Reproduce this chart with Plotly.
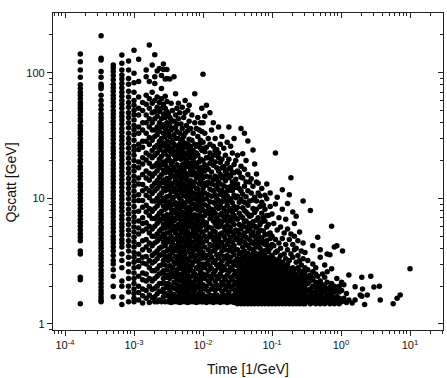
import plotly.graph_objects as go

# ---- data: Qscatt [GeV] values grouped by time [1/GeV] ----
times = [
    1.667e-4, 3.333e-4, 5.0e-4, 6.667e-4, 8.333e-4,
    1.0e-3, 1.167e-3, 1.333e-3, 1.5e-3, 1.667e-3, 1.833e-3, 2.0e-3, 2.167e-3, 2.333e-3,
    2.5e-3, 2.667e-3, 2.833e-3, 3.0e-3,
    3.15e-3, 3.3e-3, 3.45e-3, 3.6e-3, 3.8e-3, 4.0e-3, 4.2e-3, 4.4e-3, 4.6e-3, 4.8e-3,
    5.0e-3, 5.25e-3, 5.5e-3, 5.75e-3, 6.0e-3, 6.3e-3, 6.6e-3, 6.9e-3, 7.2e-3, 7.6e-3,
    8.0e-3, 8.4e-3, 8.8e-3, 9.2e-3, 9.6e-3,
    1.0e-2, 1.06e-2, 1.12e-2, 1.19e-2, 1.26e-2, 1.33e-2, 1.41e-2, 1.5e-2, 1.58e-2, 1.68e-2,
    1.78e-2, 1.88e-2, 2.0e-2, 2.11e-2, 2.24e-2, 2.37e-2, 2.51e-2, 2.66e-2, 2.82e-2, 2.98e-2,
    3.16e-2, 3.35e-2, 3.55e-2, 3.76e-2, 3.98e-2, 4.2e-2, 4.47e-2, 4.73e-2, 5.0e-2, 5.3e-2,
    5.6e-2, 5.96e-2, 6.3e-2, 6.7e-2, 7.1e-2, 7.5e-2, 7.9e-2, 8.4e-2, 8.9e-2, 9.4e-2,
    0.100, 0.106, 0.112, 0.119, 0.126, 0.133, 0.141, 0.150, 0.158, 0.168,
    0.178, 0.188, 0.200, 0.211, 0.224, 0.237, 0.251, 0.266, 0.282,
    0.30, 0.33, 0.36, 0.39, 0.43, 0.46, 0.50, 0.54, 0.58, 0.63, 0.69, 0.73, 0.80, 0.87, 0.94,
    1.02, 1.05, 1.1, 1.2, 1.3, 1.45, 1.6, 1.9, 2.0, 2.05, 2.2, 2.4, 2.7, 3.0, 3.6, 3.7,
    5.7, 6.5, 7.2, 10.0,
]

qscatt = [
    # discrete early-time columns
    [141, 122, 105, 92, 80, 75, 70, 66, 62, 58, 55, 52, 49, 46, 43, 41, 38, 36, 34, 32, 30, 28, 26.5, 25,
     23.5, 22, 20.5, 19.5, 18, 17, 16, 15, 14, 13, 12.3, 11.5, 10.8, 10.1, 9.5, 8.9, 8.3, 7.8, 7.3, 6.8,
     6.4, 6.0, 5.6, 5.2, 4.9, 4.6, 3.8, 3.6, 2.35, 2.25, 1.45],
    [197, 130, 126, 102, 92, 81, 78, 75, 66, 60, 55, 51, 47, 44, 41.5, 39, 37, 35, 33, 31, 29.5, 28, 26.5,
     25, 23.5, 22.3, 21, 20, 19, 18, 17, 16.1, 15.2, 14.4, 13.6, 12.8, 12.1, 11.4, 10.8, 10.2, 9.6, 9.1,
     8.6, 8.1, 7.6, 7.2, 6.8, 6.4, 6.0, 5.7, 5.4, 5.1, 4.8, 4.5, 4.25, 4.0, 3.75, 3.5, 3.3, 3.1, 2.9, 2.7,
     2.55, 2.4, 2.25, 2.1, 1.97, 1.85, 1.74, 1.64, 1.55, 1.5],
    [115, 109, 102, 95, 88, 81, 76, 71, 66, 62, 58, 54, 50, 47, 44, 41, 38.5, 36, 33.5, 31.5, 29.5, 27.5,
     25.5, 24, 22.5, 21, 19.5, 18.3, 17.1, 16, 15, 14, 13.1, 12.2, 11.4, 10.7, 10, 9.3, 8.7, 8.1, 7.6, 7.1,
     6.6, 6.2, 5.8, 5.4, 5.0, 4.7, 4.4, 4.1, 3.8, 3.5, 3.2, 3.0, 2.7, 2.4, 2.0, 1.65],
    [138, 119, 105, 96, 89, 82, 76, 70, 65, 60, 56, 52, 48, 45, 42, 39, 36, 33.5, 31, 29, 27, 25, 23.3,
     21.7, 20.2, 18.8, 17.5, 16.3, 15.2, 14.1, 13.1, 12.2, 11.3, 10.5, 9.8, 9.1, 8.5, 7.9, 7.3, 6.8, 6.3,
     5.9, 5.5, 5.1, 4.7, 4.4, 4.1, 3.6, 3.2, 2.8, 2.2, 2.0, 1.64, 1.43],
    [124, 105, 90, 81, 71, 64, 58, 53, 48, 44, 40, 36.5, 33, 30, 27.5, 25, 22.8, 20.8, 19, 17.3, 15.8,
     14.4, 13.1, 12, 10.9, 9.9, 9.0, 8.2, 7.5, 6.8, 6.2, 5.6, 5.1, 4.6, 4.2, 3.8, 3.4, 3.0, 2.6, 2.3, 2.0,
     1.8, 1.5],
    # dense core 1e-3 .. 3e-3
    [151, 99, 83, 70, 60, 55, 50, 46, 42, 38, 35, 32, 29, 26, 24, 22, 20, 18, 16.5, 15, 13.7, 12.5, 11.4,
     10.4, 9.5, 8.6, 7.8, 7.1, 6.5, 5.9, 5.4, 4.9, 4.5, 4.1, 3.7, 3.4, 3.1, 2.8, 2.55, 2.3, 2.1, 1.9, 1.75,
     1.6, 1.5],
    [128, 85, 64, 52, 46, 37, 33, 27, 24.5, 19.5, 17.5, 14.5, 13, 10.7, 9.6, 7.9, 6.6, 5.8, 5.2, 4.3,
     3.6, 3.2, 2.85, 2.4, 2.0, 1.78, 1.55],
    [58, 50, 40, 35, 28.5, 25.5, 21, 18.8, 15.5, 12.9, 11.5, 9.6, 8.5, 7.0, 6.3, 5.5, 4.6, 3.9, 3.4, 3.05,
     2.55, 2.25, 1.9, 1.68, 1.47],
    [105, 93, 66, 56, 46, 40, 33, 28.5, 23, 20.2, 16.5, 14.5, 12, 10.6, 8.8, 7.8, 6.4, 5.7, 4.7, 4.1, 3.45,
     3.0, 2.5, 2.2, 1.85, 1.6],
    [166, 85, 62, 52, 43, 37, 30.5, 26.8, 22, 19, 15.8, 13.9, 11.5, 10.1, 8.3, 7.3, 6.0, 5.3, 4.4, 3.85,
     3.2, 2.8, 2.3, 2.0, 1.7, 1.48],
    [115, 70, 57, 48, 40, 35, 29, 24, 21, 17.8, 15, 12.5, 10.9, 9.5, 7.9, 6.9, 5.7, 5.0, 4.2, 3.5, 3.05,
     2.65, 2.2, 1.88, 1.62],
    [139, 93, 82, 60, 49, 43, 35, 31, 25.5, 22, 18.2, 15.8, 13.2, 11.5, 9.5, 8.3, 6.9, 6.0, 5.0, 4.4,
     3.65, 3.15, 2.65, 2.3, 1.92, 1.65, 1.5],
    [103, 64, 53, 45, 37, 32, 26.5, 23, 19, 16.6, 13.8, 12, 10, 8.7, 7.2, 6.3, 5.2, 4.55, 3.8, 3.3, 2.75,
     2.4, 2.0, 1.74, 1.5],
    [108, 58, 49, 40, 34, 28.5, 24.5, 20.5, 17.6, 14.7, 12.7, 10.6, 9.2, 7.6, 6.6, 5.5, 4.8, 4.0, 3.5,
     2.9, 2.5, 2.1, 1.82, 1.55],
    [95, 75, 62, 52, 43, 37, 30, 26, 21.5, 18.6, 15.4, 13.3, 11, 9.5, 7.9, 6.8, 5.7, 4.95, 4.1, 3.55,
     2.95, 2.55, 2.1, 1.82, 1.5],
    [117, 106, 56, 47, 38.5, 33, 27.5, 23.5, 19.5, 16.8, 14, 12, 10, 8.7, 7.2, 6.2, 5.2, 4.5, 3.7, 3.2,
     2.65, 2.3, 1.9, 1.65],
    [89, 65, 52, 44, 36, 31, 26, 22.5, 18.5, 16, 13.2, 11.5, 9.5, 8.2, 6.8, 5.8, 4.85, 4.2, 3.45, 2.95,
     2.45, 2.1, 1.75, 1.5],
    [106, 90, 59, 49, 40, 34.5, 28.5, 24.5, 20, 17.4, 14.4, 12.5, 10.3, 8.9, 7.4, 6.4, 5.3, 4.6, 3.8,
     3.3, 2.7, 2.35, 1.95, 1.68],
    # 3e-3 .. 1e-2
    [1.5, 1.68, 2.1, 2.45, 3.2, 3.9, 4.5, 5.9, 7.0, 8.6, 11.8, 13.5, 17, 21.5, 26, 33, 38, 47],
    [1.55, 1.85, 2.3, 2.9, 3.5, 4.8, 5.4, 6.6, 9.4, 10.5, 14.5, 16, 20, 24, 31, 39, 44, 89],
    [1.48, 1.75, 2.0, 2.6, 3.3, 4.1, 5.0, 6.2, 7.5, 8.2, 11.3, 12.6, 15.5, 18.5, 23, 28, 35, 42, 57],
    [1.62, 1.95, 2.4, 2.8, 3.7, 4.4, 5.6, 7.0, 8.9, 9.9, 13.2, 16.8, 19.5, 25, 29, 36, 50],
    [1.5, 1.72, 2.15, 2.55, 3.1, 3.9, 4.7, 6.0, 6.6, 8.0, 10.2, 12, 15, 17.5, 22, 27, 32, 41, 93],
    [1.56, 1.9, 2.35, 3.0, 3.45, 4.2, 5.3, 6.8, 7.7, 9.2, 11.2, 14, 16.5, 20.5, 23.5, 30, 37, 46, 68],
    [1.5, 1.65, 2.05, 2.7, 3.3, 3.8, 4.9, 5.7, 7.2, 8.5, 10.6, 12.8, 15.3, 18.5, 22.5, 26, 34, 39, 52],
    [1.6, 1.82, 2.25, 2.5, 3.05, 4.0, 4.5, 6.2, 6.9, 9.0, 11.7, 13.3, 16, 21, 25, 30, 43, 57],
    [1.48, 1.7, 2.0, 2.45, 2.85, 3.5, 4.3, 5.1, 5.9, 7.5, 8.2, 10, 12.5, 14.8, 17.5, 24, 27, 33, 48],
    [1.55, 1.95, 2.2, 2.75, 3.25, 3.7, 4.8, 5.5, 6.6, 8.8, 9.6, 11, 13.8, 16.5, 20.5, 22.5, 28, 39],
    [1.5, 1.62, 1.85, 2.4, 2.95, 3.4, 4.1, 4.6, 6.0, 7.0, 7.8, 9.4, 12, 15.5, 18.5, 24.5, 29, 36, 53],
    [1.57, 1.78, 2.1, 2.6, 3.15, 3.9, 5.3, 6.4, 7.3, 8.6, 10.5, 13, 14.5, 17, 21, 26, 31, 44],
    [1.5, 1.7, 1.98, 2.3, 2.8, 3.6, 4.4, 4.9, 5.7, 6.8, 9.1, 11.5, 12.6, 16, 19, 23, 27.5, 33, 48, 60],
    [1.62, 1.88, 2.2, 2.55, 3.0, 3.3, 4.2, 5.1, 6.2, 7.6, 8.3, 10.3, 14, 17.8, 20, 25.5, 38],
    [1.48, 1.73, 2.05, 2.45, 2.9, 3.75, 4.6, 5.4, 6.5, 7.1, 9.7, 11, 12.2, 15.2, 18.2, 22, 27, 34.5, 50],
    [1.55, 1.8, 2.3, 2.65, 3.2, 4.0, 4.7, 5.9, 6.9, 8.5, 10.6, 13.3, 15.8, 19, 24, 29.5, 41, 55],
    [1.5, 1.65, 1.95, 2.15, 2.8, 3.45, 4.3, 5.0, 6.1, 7.4, 8.0, 9.3, 11.6, 13.8, 17, 21, 26, 36],
    [1.6, 1.9, 2.4, 2.95, 3.6, 4.1, 5.2, 6.4, 7.0, 8.2, 10.1, 12.4, 15.3, 18.6, 22.5, 29, 46],
    [1.5, 1.72, 2.05, 2.6, 3.1, 3.8, 4.5, 5.6, 6.8, 9.0, 11, 12.7, 16.5, 20, 24, 33],
    [1.56, 1.85, 2.2, 2.5, 3.35, 4.0, 4.9, 5.9, 7.4, 8.3, 9.9, 13.5, 15.6, 18, 21.5, 27, 40, 68],
    [1.48, 1.68, 2.0, 2.35, 2.8, 3.5, 4.2, 5.2, 6.3, 7.0, 8.8, 10.8, 12, 14.6, 19, 23, 26, 36],
    [1.6, 1.95, 2.3, 2.75, 3.15, 3.9, 4.6, 5.6, 6.6, 8.1, 9.6, 11.8, 16, 17.6, 22, 31, 44],
    [1.5, 1.75, 2.1, 2.45, 3.0, 3.65, 4.3, 5.0, 6.0, 7.4, 8.5, 10.1, 13, 15, 19.5, 27, 35],
    [1.55, 1.82, 2.2, 2.65, 3.3, 4.0, 4.8, 5.9, 7.2, 8.0, 9.2, 11, 14, 16.5, 20.5, 25, 29, 40],
    [1.5, 1.66, 1.98, 2.35, 2.85, 3.5, 4.4, 5.4, 6.2, 6.9, 8.4, 10.5, 12.9, 15.4, 17.6, 24, 34, 52],
    # 1e-2 .. 3e-2
    [1.5, 1.72, 2.05, 2.5, 3.0, 3.7, 4.5, 5.4, 6.6, 8.0, 9.8, 12, 14.5, 17, 20, 25, 28, 40, 97],
    [1.58, 1.9, 2.3, 2.8, 3.35, 4.1, 5.0, 6.1, 7.3, 8.9, 11, 13.2, 16.5, 18.5, 23.5, 33, 45],
    [1.48, 1.65, 2.0, 2.45, 3.0, 3.5, 4.6, 5.6, 6.4, 7.9, 9.9, 12.7, 15, 18, 21, 25.5, 55],
    [1.55, 1.82, 2.2, 2.65, 3.2, 3.9, 4.9, 5.9, 7.6, 8.6, 10.7, 13.5, 17, 21, 30],
    [1.5, 1.7, 2.1, 2.4, 2.9, 3.6, 4.3, 5.2, 6.9, 7.7, 9.4, 11.8, 14.8, 19, 23, 27, 48],
    [1.6, 1.9, 2.3, 2.75, 3.4, 4.2, 5.0, 5.8, 7.2, 8.2, 10.4, 13, 16.2, 20.5, 35],
    [1.48, 1.68, 2.0, 2.5, 3.1, 3.8, 4.7, 5.5, 6.6, 7.9, 9.3, 11.5, 14, 18.3, 22, 26, 40],
    [1.55, 1.85, 2.2, 2.65, 3.2, 3.9, 4.5, 5.4, 6.3, 7.6, 9.0, 10.7, 12.7, 15, 19.5, 24, 30],
    [1.5, 1.7, 2.05, 2.4, 2.95, 3.55, 4.2, 5.0, 6.0, 7.0, 8.5, 10, 12.4, 14.5, 17.5, 22, 24.5],
    [1.6, 1.92, 2.3, 2.8, 3.35, 4.1, 4.8, 5.9, 6.7, 8.3, 9.6, 11.7, 13.5, 16.5, 21, 23, 37],
    [1.48, 1.66, 2.0, 2.5, 3.0, 3.6, 4.5, 5.2, 6.2, 7.4, 8.9, 10.8, 13, 15.5, 19.3, 27],
    [1.55, 1.82, 2.15, 2.65, 3.15, 3.8, 4.4, 5.3, 6.5, 7.6, 9.4, 11.6, 14.6, 17.5, 20.5, 31],
    [1.5, 1.7, 2.05, 2.35, 2.85, 3.45, 4.1, 5.0, 5.9, 7.1, 8.3, 10.2, 12.6, 15, 17.8, 25],
    [1.6, 1.88, 2.25, 2.7, 3.3, 3.9, 4.7, 5.6, 6.7, 7.9, 9.5, 11.1, 13.8, 16.4, 22],
    [1.48, 1.7, 2.0, 2.45, 3.0, 3.5, 4.3, 5.2, 6.1, 7.3, 8.8, 10.5, 12.2, 15.6, 19, 28],
    [1.55, 1.8, 2.15, 2.6, 3.2, 3.85, 4.6, 5.5, 6.6, 8.0, 9.6, 11.6, 14.6, 17.2, 20.5, 37],
    [1.5, 1.66, 1.98, 2.35, 2.8, 3.4, 4.1, 4.9, 5.9, 7.0, 8.3, 9.9, 12.4, 15, 17.5, 26],
    [1.6, 1.9, 2.25, 2.7, 3.1, 3.75, 4.5, 5.4, 6.5, 7.7, 9.2, 11.5, 13.5, 16.2, 23],
    [1.48, 1.7, 2.05, 2.45, 2.95, 3.55, 4.2, 5.1, 6.2, 7.3, 8.6, 10.6, 13.2, 16, 18.6, 30],
    [1.55, 1.78, 2.15, 2.6, 3.2, 3.9, 4.7, 5.6, 6.9, 8.2, 10.1, 12.2, 14.2, 20],
    # 3e-2 .. 1e-1
    [1.45, 1.58, 1.72, 1.9, 2.1, 2.35, 2.6, 2.9, 3.3, 3.9, 4.8, 5.5, 6.8, 8.5, 10.4, 13, 16.5, 22],
    [1.5, 1.62, 1.8, 2.0, 2.22, 2.5, 2.75, 3.1, 3.6, 4.4, 5.2, 6.2, 7.6, 9.3, 12, 16],
    [1.45, 1.55, 1.7, 1.86, 2.05, 2.3, 2.55, 2.85, 3.2, 3.7, 4.6, 5.7, 7.2, 9.8, 11.5, 14.8, 18, 36],
    [1.48, 1.6, 1.78, 1.95, 2.15, 2.4, 2.7, 3.0, 3.45, 4.1, 5.0, 6.0, 7.0, 8.4, 10.8, 14.5, 22.6],
    [1.45, 1.55, 1.68, 1.85, 2.0, 2.25, 2.5, 2.8, 3.3, 3.8, 4.5, 5.3, 6.5, 8.0, 9.3, 12.5, 17, 33],
    [1.5, 1.63, 1.8, 2.0, 2.2, 2.45, 2.7, 3.05, 3.5, 4.3, 4.9, 5.9, 6.6, 7.8, 10.3, 13.5, 20],
    [1.45, 1.57, 1.72, 1.9, 2.1, 2.3, 2.6, 2.9, 3.2, 3.65, 4.2, 5.5, 7.5, 8.8, 11.5, 15.5, 28.6],
    [1.48, 1.6, 1.75, 1.95, 2.15, 2.4, 2.65, 3.0, 3.4, 4.0, 4.7, 5.7, 6.3, 7.2, 9.5, 13.5],
    [1.45, 1.55, 1.7, 1.87, 2.05, 2.25, 2.5, 2.8, 3.15, 3.55, 4.4, 5.1, 6.0, 7.3, 11, 14.3],
    [1.5, 1.62, 1.8, 1.98, 2.2, 2.45, 2.75, 3.1, 3.5, 3.9, 4.5, 5.4, 6.5, 8.3, 9.7, 12.5, 24.3],
    [1.45, 1.57, 1.72, 1.9, 2.1, 2.32, 2.6, 2.9, 3.25, 3.7, 4.3, 5.0, 6.0, 7.7, 10.2, 18.8],
    [1.48, 1.6, 1.77, 1.95, 2.15, 2.4, 2.7, 3.0, 3.4, 4.1, 4.8, 5.8, 6.7, 8.2, 9.5, 13.5, 15.6],
    [1.45, 1.55, 1.7, 1.85, 2.02, 2.25, 2.5, 2.8, 3.15, 3.6, 4.2, 4.6, 5.3, 7.0, 11, 13.2],
    [1.5, 1.63, 1.8, 2.0, 2.2, 2.45, 2.72, 3.05, 3.45, 4.0, 4.9, 5.6, 6.2, 8.6, 10.5],
    [1.45, 1.57, 1.72, 1.88, 2.08, 2.3, 2.55, 2.85, 3.2, 3.7, 4.4, 4.8, 6.5, 7.6, 9.3, 12],
    [1.48, 1.6, 1.76, 1.95, 2.15, 2.4, 2.68, 3.0, 3.35, 3.8, 4.5, 5.5, 7.0, 8.8],
    [1.45, 1.55, 1.7, 1.85, 2.04, 2.26, 2.5, 2.78, 3.1, 3.5, 4.3, 5.1, 6.6, 8.2, 10.6],
    [1.5, 1.62, 1.78, 1.97, 2.18, 2.42, 2.7, 3.0, 3.35, 3.9, 4.6, 5.9, 7.3, 9.9, 13],
    [1.45, 1.57, 1.72, 1.9, 2.1, 2.33, 2.6, 2.9, 3.25, 3.75, 4.2, 5.2, 6.2, 7.3],
    [1.48, 1.6, 1.76, 1.95, 2.15, 2.4, 2.65, 2.95, 3.4, 4.0, 4.8, 5.3, 8.6, 11],
    # 0.1 .. 0.3
    [1.45, 1.56, 1.7, 1.86, 2.04, 2.25, 2.5, 2.78, 3.1, 3.5, 4.3, 5.0, 7.5],
    [1.5, 1.62, 1.77, 1.94, 2.14, 2.37, 2.64, 2.95, 3.3, 4.2, 6.3],
    [1.45, 1.55, 1.68, 1.83, 2.0, 2.2, 2.45, 2.72, 3.05, 3.7, 4.7, 9.0, 23],
    [1.48, 1.6, 1.74, 1.9, 2.08, 2.3, 2.55, 2.85, 3.2, 3.8, 5.6, 10.2],
    [1.45, 1.56, 1.69, 1.85, 2.03, 2.24, 2.48, 2.75, 3.3, 4.4, 7.0],
    [1.5, 1.62, 1.77, 1.95, 2.15, 2.38, 2.65, 2.98, 3.5, 4.0, 5.9],
    [1.45, 1.55, 1.68, 1.83, 2.0, 2.2, 2.45, 2.72, 3.1, 4.8, 8.2, 11.7],
    [1.48, 1.6, 1.74, 1.9, 2.08, 2.3, 2.56, 2.88, 3.6, 5.3],
    [1.45, 1.56, 1.69, 1.85, 2.03, 2.24, 2.5, 2.8, 3.3, 4.3, 6.8],
    [1.5, 1.62, 1.77, 1.95, 2.15, 2.4, 2.68, 3.0, 3.9, 5.7, 9.1],
    [1.45, 1.55, 1.68, 1.83, 2.0, 2.2, 2.45, 2.75, 3.2, 4.7, 10.7],
    [1.48, 1.6, 1.74, 1.9, 2.1, 2.32, 2.6, 3.6, 5.2, 14.6],
    [1.45, 1.56, 1.69, 1.85, 2.03, 2.25, 2.5, 2.8, 3.4, 4.3, 7.8],
    [1.5, 1.62, 1.77, 1.95, 2.15, 2.4, 2.7, 3.9, 5.0, 6.3],
    [1.45, 1.55, 1.68, 1.83, 2.0, 2.22, 2.48, 3.1, 4.0, 7.2],
    [1.48, 1.6, 1.74, 1.9, 2.1, 2.35, 2.8, 3.5, 4.6],
    [1.45, 1.56, 1.69, 1.85, 2.05, 2.28, 2.65, 3.2, 5.4],
    [1.5, 1.62, 1.77, 1.95, 2.2, 2.45, 2.95, 3.8],
    [1.45, 1.55, 1.68, 1.85, 2.05, 2.3, 2.6, 3.3, 4.4, 9.5],
    # 0.3 .. 1
    [1.45, 1.58, 1.75, 1.95, 2.2, 2.5, 2.8, 3.7],
    [1.5, 1.65, 1.85, 2.1, 2.35, 2.7, 3.2],
    [1.45, 1.56, 1.72, 1.9, 2.2, 2.45, 8.0],
    [1.5, 1.63, 1.8, 2.0, 2.3, 2.6, 3.0, 4.2],
    [1.45, 1.57, 1.75, 1.95, 2.15, 2.5, 2.8],
    [1.5, 1.65, 1.85, 2.1, 2.4, 4.9],
    [1.45, 1.58, 1.75, 1.95, 2.2, 3.4, 3.9],
    [1.5, 1.65, 1.85, 2.05, 2.5],
    [1.45, 1.6, 1.8, 2.0, 2.35, 2.95],
    [1.5, 1.68, 1.9, 2.15, 2.6, 3.6],
    [1.45, 1.6, 1.78, 1.95, 3.55],
    [1.5, 1.7, 1.9, 2.1, 2.75, 6.0],
    [1.45, 1.6, 1.8, 2.0, 4.1],
    [1.5, 1.65, 1.85, 2.3, 4.2],
    [1.45, 1.6, 1.8, 2.0],
    # 1 .. 10
    [1.5, 1.85, 2.15],
    [3.8],
    [1.6, 2.05],
    [1.48, 1.75],
    [2.45, 1.55],
    [1.47],
    [1.98, 1.55],
    [1.7],
    [2.35, 1.66],
    [1.9],
    [1.43],
    [1.7],
    [2.4],
    [1.97],
    [2.0],
    [1.55],
    [1.45],
    [1.6],
    [1.7],
    [2.75],
]

x_tick_vals = [1e-4, 1e-3, 1e-2, 1e-1, 1e0, 1e1]
x_tick_text = ["10<sup>-4</sup>", "10<sup>-3</sup>", "10<sup>-2</sup>", "10<sup>-1</sup>",
               "10<sup>0</sup>", "10<sup>1</sup>"]
y_tick_vals = [1, 10, 100]
y_tick_text = ["1", "10", "100"]

# flatten groups into point lists
pts_t, pts_q = [], []
for t, qs in zip(times, qscatt):
    for q in qs:
        pts_t.append(t)
        pts_q.append(q)

x_minor = [m * 10.0 ** e for e in range(-5, 2) for m in range(2, 10)]
y_minor = [m * 10.0 ** e for e in range(-1, 3) for m in range(2, 10)]

XR = [-4.174, 1.478]
YR = [-0.048, 2.475]
FONT = "Arial, Liberation Sans, Helvetica, sans-serif"

fig = go.Figure()
fig.add_trace(go.Scatter(
    x=pts_t, y=pts_q, mode="markers",
    marker=dict(color="black", size=5.5, line=dict(width=0)),
    showlegend=False, hoverinfo="skip",
))
fig.add_trace(go.Scatter(x=[], y=[], xaxis="x2", yaxis="y2", showlegend=False))

common = dict(type="log", showgrid=False, zeroline=False, linecolor="#222", linewidth=1.2,
              tickcolor="#222", tickwidth=1)

fig.update_layout(
    width=447, height=378,
    margin=dict(l=53, r=4, t=13, b=48),
    paper_bgcolor="white", plot_bgcolor="white",
    font=dict(family=FONT, size=11, color="#111"),
    xaxis=dict(**common, range=XR, showline=True, mirror=True, ticks="outside", ticklen=5,
               tickmode="array", tickvals=x_tick_vals, ticktext=x_tick_text,
               tickfont=dict(size=11),
               minor=dict(tickmode="array", tickvals=x_minor, ticks="outside", ticklen=3,
                          tickcolor="#222", showgrid=False)),
    yaxis=dict(**common, range=YR, showline=True, mirror=True, ticks="outside", ticklen=5,
               tickmode="array", tickvals=y_tick_vals, ticktext=y_tick_text,
               tickfont=dict(size=11),
               minor=dict(tickmode="array", tickvals=y_minor, ticks="outside", ticklen=3,
                          tickcolor="#222", showgrid=False)),
    xaxis2=dict(**common, range=XR, overlaying="x", side="top", anchor="y", showline=False,
                ticks="inside", ticklen=5, showticklabels=False,
                tickmode="array", tickvals=x_tick_vals,
                minor=dict(tickmode="array", tickvals=x_minor, ticks="inside", ticklen=3,
                           tickcolor="#222", showgrid=False)),
    yaxis2=dict(**common, range=YR, overlaying="y", side="right", anchor="x", showline=False,
                ticks="inside", ticklen=5, showticklabels=False,
                tickmode="array", tickvals=y_tick_vals,
                minor=dict(tickmode="array", tickvals=y_minor, ticks="inside", ticklen=3,
                           tickcolor="#222", showgrid=False)),
    annotations=[
        dict(text="Time [1/GeV]", xref="paper", yref="paper", x=0.5, y=-0.123,
             xanchor="center", yanchor="middle", showarrow=False,
             font=dict(family=FONT, size=14, color="#111")),
        dict(text="Qscatt [GeV]", xref="paper", yref="paper", x=-0.1077, y=0.465,
             xanchor="center", yanchor="middle", textangle=-90, showarrow=False,
             font=dict(family=FONT, size=14, color="#111")),
    ],
)

fig.write_html("out.html")
